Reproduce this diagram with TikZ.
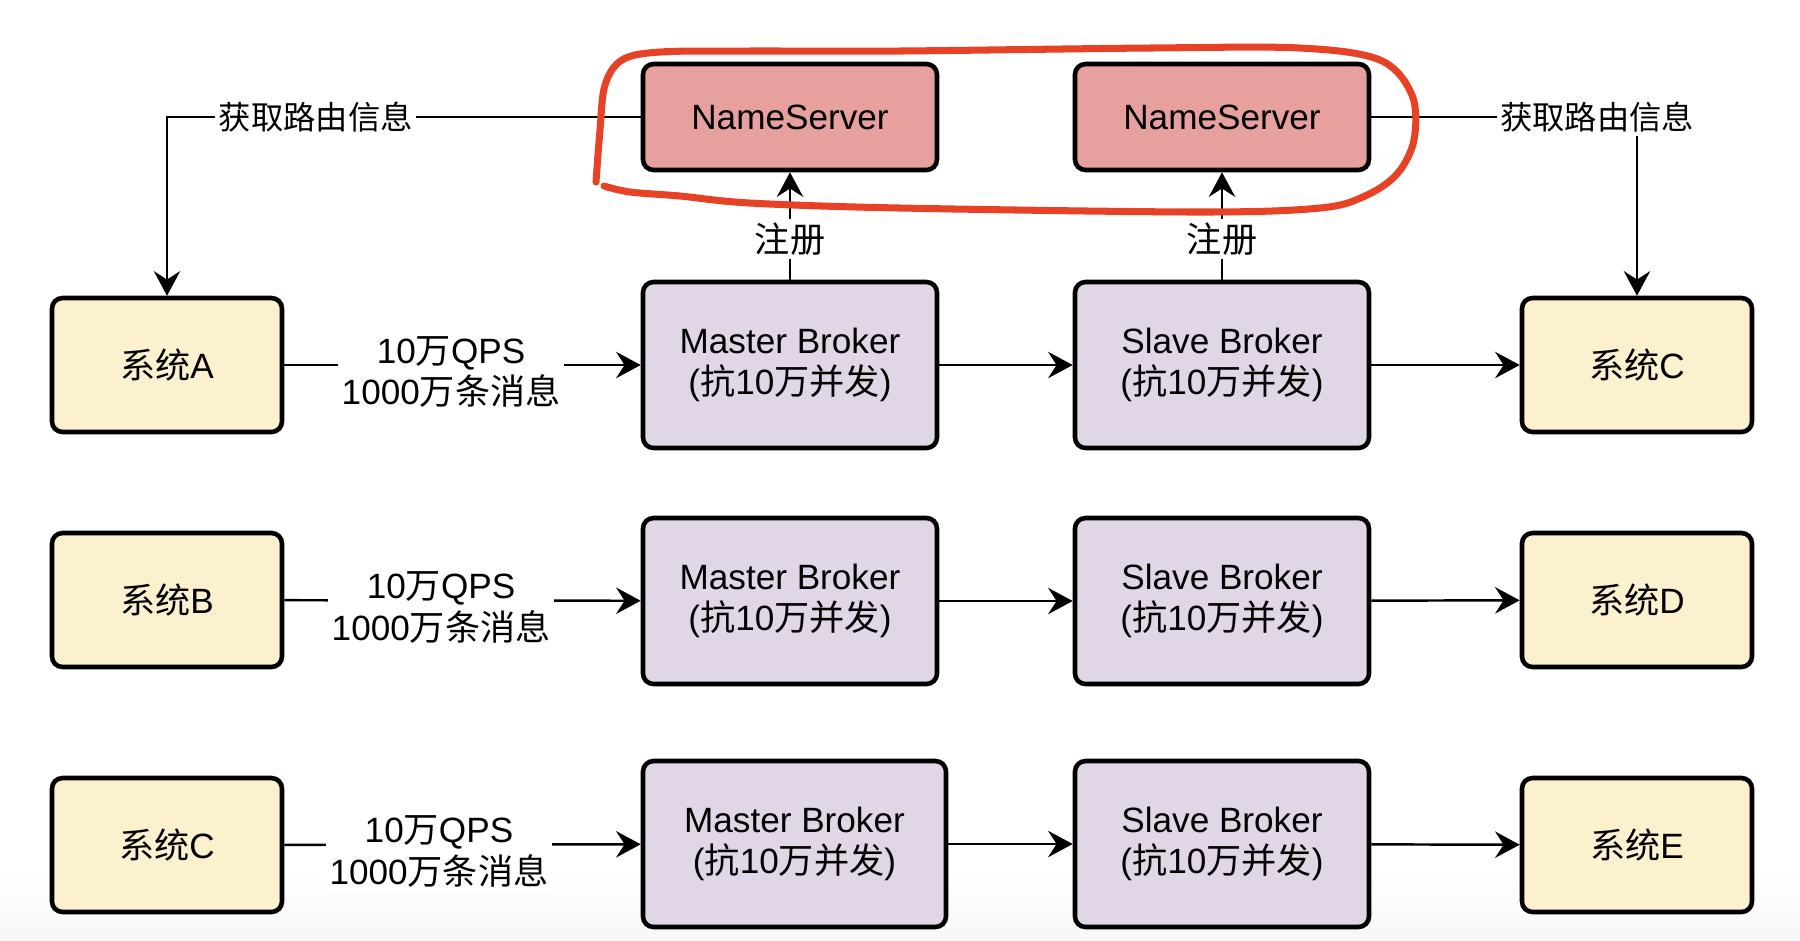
\documentclass[tikz,border=0pt]{standalone}
\usepackage{fontspec}
\setmainfont{Liberation Sans}
\newfontfamily\cjk{Noto Sans CJK SC}
\newcommand{\zh}[1]{{\cjk #1}}
\usetikzlibrary{arrows.meta,calc}

\definecolor{nsred}{RGB}{230,160,158}
\definecolor{brkpurple}{RGB}{224,214,230}
\definecolor{sysyellow}{RGB}{252,241,206}
\definecolor{penred}{RGB}{232,66,38}

\begin{document}
\begin{tikzpicture}[>={Stealth[length=7pt,width=7.5pt,inset=2.4pt]},
  box/.style={draw,line width=1.3pt,rounded corners=3pt,align=center,
    font=\fontsize{10}{11.6}\selectfont},
  ns/.style={box,fill=nsred,minimum width=2.94cm,minimum height=1.06cm},
  brk/.style={box,fill=brkpurple,minimum width=2.94cm,minimum height=1.66cm},
  sys/.style={box,fill=sysyellow,minimum width=2.30cm,minimum height=1.34cm},
  lbl/.style={fill=white,inner sep=1pt,align=center,font=\fontsize{10}{11.8}\selectfont},
  conn/.style={->,line width=0.7pt}]
  \useasboundingbox (0,0) rectangle (18,-9.4);
  \shade[top color=white,bottom color=gray!6] (0,-8.7) rectangle (18,-9.4);

  % name servers
  \node[ns] (ns1) at (7.90,-1.17) {NameServer};
  \node[ns] (ns2) at (12.22,-1.17) {NameServer};

  % row 1
  \node[sys] (sysA) at (1.67,-3.65) {\zh{系统}A};
  \node[brk] (m1) at (7.90,-3.65) {Master Broker\\(\zh{抗}10\zh{万并发})};
  \node[brk] (s1) at (12.22,-3.65) {Slave Broker\\(\zh{抗}10\zh{万并发})};
  \node[sys] (sysC) at (16.37,-3.65) {\zh{系统}C};

  % row 2
  \node[sys] (sysB) at (1.67,-6.00) {\zh{系统}B};
  \node[brk] (m2) at (7.90,-6.01) {Master Broker\\(\zh{抗}10\zh{万并发})};
  \node[brk] (s2) at (12.22,-6.01) {Slave Broker\\(\zh{抗}10\zh{万并发})};
  \node[sys] (sysD) at (16.37,-6.00) {\zh{系统}D};

  % row 3
  \node[sys] (sysC2) at (1.67,-8.45) {\zh{系统}C};
  \node[brk,minimum width=3.03cm] (m3) at (7.945,-8.44) {Master Broker\\(\zh{抗}10\zh{万并发})};
  \node[brk] (s3) at (12.22,-8.44) {Slave Broker\\(\zh{抗}10\zh{万并发})};
  \node[sys] (sysE) at (16.37,-8.45) {\zh{系统}E};

  % routing info
  \draw[conn] (ns1) -| (sysA) node[lbl,pos=0.343,font=\fontsize{9.2}{11}\selectfont] {\zh{获取路由信息}};
  \draw[conn] (ns2) -| (sysC) node[lbl,pos=0.425,font=\fontsize{9.2}{11}\selectfont] {\zh{获取路由信息}};

  % register
  \draw[conn] (m1) -- node[lbl,pos=0.38] {\zh{注册}} (ns1);
  \draw[conn] (s1) -- node[lbl,pos=0.38] {\zh{注册}} (ns2);

  % message flow
  \draw[conn] (sysA) -- node[lbl,pos=0.468,yshift=-2pt] {10\zh{万}QPS\\1000\zh{万条消息}} (m1);
  \draw[conn] (sysB) -- node[lbl,pos=0.44,yshift=-2pt] {10\zh{万}QPS\\1000\zh{万条消息}} (m2);
  \draw[conn] (sysC2) -- node[lbl,pos=0.434,yshift=-2pt] {10\zh{万}QPS\\1000\zh{万条消息}} (m3);
  \draw[conn] (m1) -- (s1);
  \draw[conn] (m2) -- (s2);
  \draw[conn] (m3) -- (s3);
  \draw[conn] (s1) -- (sysC);
  \draw[conn] (s2) -- (sysD);
  \draw[conn] (s3) -- (sysE);

  % hand-drawn circle round the name servers
  \draw[penred,line width=2pt,line cap=round] plot[smooth,tension=0.55] coordinates {
    (5.96,-1.82) (6.00,-1.30) (6.05,-0.85) (6.22,-0.60) (6.60,-0.52) (7.50,-0.51)
    (9.00,-0.51) (11.50,-0.48) (13.00,-0.48) (13.80,-0.60) (14.12,-0.95)
    (14.14,-1.40) (13.97,-1.74) (13.65,-1.96) (13.20,-2.08) (12.00,-2.12)
    (9.00,-2.08) (7.50,-2.03) (6.80,-1.96) (6.30,-1.92) (6.04,-1.86)};
\end{tikzpicture}
\end{document}
